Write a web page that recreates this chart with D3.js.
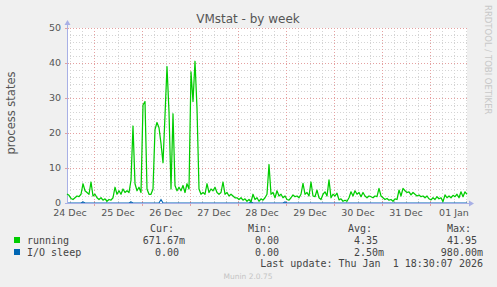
<!DOCTYPE html>
<html><head><meta charset="utf-8">
<script src="https://cdn.jsdelivr.net/npm/d3@7"></script>
<style>
html,body{margin:0;padding:0;background:#f0f0f0;}
svg{display:block;}
text{font-family:"DejaVu Sans",sans-serif;}
.mono{font-family:"DejaVu Sans Mono",monospace;font-size:10px;fill:#444;white-space:pre;}
</style></head>
<body>
<script>
// ---- data ----
const startTime = "2025-12-24T10:30:00Z";
const endTime = "2026-01-01T18:30:00Z";
const stepHours = 1;
const running = [
2.6,2.2,1.3,1.0,1.5,2.0,1.8,2.5,5.5,3.5,3.0,2.5,6.0,2.0,2.5,1.5,1.0,1.5,0.8,1.2,
0.5,1.0,0.8,1.5,4.5,2.5,3.5,2.5,4.0,3.0,3.5,3.0,6.5,22,5.5,3.5,4.5,3.0,28,29,
4.0,2.5,2.5,4.0,21,23,21.5,17,11.5,25,39,26,4,25.5,5,3.5,4.5,3.5,5.0,3.0,
5.5,4.0,37.5,29,40.5,27,4.0,2.5,3.0,2.5,5.5,3.0,4.0,3.5,4.5,3.0,2.5,3.0,6.0,2.5,
3.0,2.0,2.5,2.0,1.5,1.5,1.0,1.5,0.8,1.2,0.5,1.0,0.3,2.5,1.0,1.5,0.5,1.2,0.8,1.5,
2.5,11,2.5,3.0,1.5,3.5,
2.0,2.5,1.5,2.0,1.0,0.8,1.5,2.3,1.8,2.0,1.5,2.5,5.6,2.5,3.0,2.0,6.0,2.0,1.8,3.7,
1.5,1.0,2.5,3.2,2.0,6.6,1.5,2.5,2.0,2.8,0.9,1.2,0.5,0.8,0.5,1.5,3.2,2.0,3.5,2.5,
3.0,1.8,3.0,2.0,1.5,2.0,1.8,1.5,2.0,1.8,4.2,2.0,1.5,1.0,1.3,0.8,1.0,0.5,1.2,1.0,
3.7,2.0,4.2,3.5,3.0,3.2,2.3,3.0,2.5,2.0,2.3,1.8,2.0,1.5,2.0,1.2,0.9,1.5,1.0,1.8,
1.2,1.5,0.4,2.3,1.5,2.0,1.5,2.2,1.8,2.5,1.5,3.2,1.8,3.2,2.5
];
const ioSleep = [
0,0,0,0,0,0,0,0,0.3,0,0,0,0,0,0,0,0,0,0,0,
0,0,0,0,0,0,0,0,0,0,0,0,0.3,0,0,0,0,0,0,0,
0,0,0,0,0,0,0,0.98,0,0,0,0,0,0,0,0,0,0,0,0,
0,0,0,0,0,0,0,0,0,0,0,0,0,0,0,0,0,0,0,0,
0,0,0,0,0,0,0,0,0,0,0,0,0.3,0,0,0,0,0,0,0,
0,0,0,0,0,0,
0,0,0,0.3,0,0,0,0,0,0,0,0,0,0,0,0,0,0,0,0,
0,0,0,0,0,0,0,0,0,0,0,0,0,0,0,0,0,0,0,0,
0,0,0,0,0,0,0,0,0,0,0,0,0,0,0,0,0,0,0,0,
0,0,0,0,0,0,0,0,0,0,0,0,0,0,0,0,0,0,0,0,
0,0,0,0,0,0,0,0,0,0,0,0,0,0,0
];
const yTicks = [0,10,20,30,40,50];
const seriesNames = ["running","I/O sleep"];
const seriesColors = ["#00cc00","#0066b3"];
const legendHeaders = ["Cur:","Min:","Avg:","Max:"];
const legendValues = [
  ["671.67m","0.00 ","4.35 ","41.95 "],
  ["0.00 ","0.00 ","2.50m","980.00m"]
];
const title = "VMstat - by week";
const yLabel = "process states";
const lastUpdate = "Last update: Thu Jan  1 18:30:07 2026";
const footer = "Munin 2.0.75";
const sideText = "RRDTOOL / TOBI OETIKER";

// ---- chart ----
const W = 497, H = 287;
const L = 67, R = 467, T = 28, B = 203;
const svg = d3.select("body").append("svg").attr("width", W).attr("height", H);
svg.append("rect").attr("width", W).attr("height", H).attr("fill", "#f0f0f0");

const t0 = new Date(startTime), t1 = new Date(endTime);
const x = d3.scaleUtc().domain([t0, t1]).range([L, R]);
const y = d3.scaleLinear().domain([0, 50]).range([B, T]);
const timeAt = i => new Date(t0.getTime() + i * stepHours * 3600e3);

svg.append("rect").attr("x", L).attr("y", T).attr("width", R - L).attr("height", B - T).attr("fill", "#ffffff");

// grid
const g = svg.append("g").attr("shape-rendering", "crispEdges");
const minorX = d3.utcHour.every(6).range(t0, t1).filter(d => d.getUTCHours() !== 0);
const majorX = d3.utcDay.range(t0, t1);
const minorY = d3.range(2, 51, 2).filter(v => v % 10 !== 0);
g.selectAll(".mx").data(minorX).join("line")
  .attr("x1", d => Math.round(x(d)) + 0.5).attr("x2", d => Math.round(x(d)) + 0.5)
  .attr("y1", T).attr("y2", B).attr("stroke", "#d4d4d4").attr("stroke-dasharray", "1,2");
g.selectAll(".my").data(minorY).join("line")
  .attr("x1", L).attr("x2", R).attr("y1", d => Math.round(y(d)) + 0.5).attr("y2", d => Math.round(y(d)) + 0.5)
  .attr("stroke", "#d4d4d4").attr("stroke-dasharray", "1,2");
g.selectAll(".Mx").data(majorX).join("line")
  .attr("x1", d => Math.round(x(d)) + 0.5).attr("x2", d => Math.round(x(d)) + 0.5)
  .attr("y1", T).attr("y2", B).attr("stroke", "#e5a0a0").attr("stroke-dasharray", "1,2");
g.selectAll(".My").data(yTicks.filter(v => v > 0)).join("line")
  .attr("x1", L).attr("x2", R).attr("y1", d => Math.round(y(d)) + 0.5).attr("y2", d => Math.round(y(d)) + 0.5)
  .attr("stroke", "#e5a0a0").attr("stroke-dasharray", "1,2");

// tick marks
g.selectAll(".tk").data(minorX).join("line")
  .attr("x1", d => Math.round(x(d)) + 0.5).attr("x2", d => Math.round(x(d)) + 0.5)
  .attr("y1", B - 2).attr("y2", B + 1).attr("stroke", "#c8c8c8");
g.selectAll(".tK").data(majorX).join("line")
  .attr("x1", d => Math.round(x(d)) + 0.5).attr("x2", d => Math.round(x(d)) + 0.5)
  .attr("y1", B - 2).attr("y2", B + 3).attr("stroke", "#e5a0a0");
g.selectAll(".ty").data(yTicks.filter(v => v > 0)).join("line")
  .attr("x1", L - 2).attr("x2", L + 2).attr("y1", d => Math.round(y(d)) + 0.5).attr("y2", d => Math.round(y(d)) + 0.5)
  .attr("stroke", "#e5a0a0");

// series
const line = d3.line().x((d, i) => x(timeAt(i))).y(d => y(d));
svg.append("path").datum(ioSleep).attr("d", line).attr("fill", "none")
  .attr("stroke", seriesColors[1]).attr("stroke-width", 1.2);

// axes lines
const axisColor = "#a8b0e6";
svg.append("line").attr("x1", L + 0.5).attr("x2", L + 0.5).attr("y1", B + 1).attr("y2", T - 4)
  .attr("stroke", axisColor).attr("shape-rendering", "crispEdges");
svg.append("line").attr("x1", L - 2).attr("x2", R + 3).attr("y1", B + 0.5).attr("y2", B + 0.5)
  .attr("stroke", axisColor).attr("shape-rendering", "crispEdges");
svg.append("path").attr("d", `M${L - 2.5},${T - 3} L${L + 0.5},${T - 8} L${L + 3.5},${T - 3} Z`).attr("fill", axisColor);
svg.append("path").attr("d", `M${R + 2},${B - 2.5} L${R + 7},${B + 0.5} L${R + 2},${B + 3.5} Z`).attr("fill", axisColor);

svg.append("path").datum(running).attr("d", line).attr("fill", "none")
  .attr("stroke", seriesColors[0]).attr("stroke-width", 1.25).attr("stroke-linejoin", "round");

// blue blips over axis
svg.append("path").datum(ioSleep).attr("d", d3.line().defined(d => d > 0)
  .x((d, i) => x(timeAt(i))).y(d => y(d))).attr("fill", "none").attr("stroke", seriesColors[1]);

// axis labels
const labelDays = d3.utcDay.range(d3.utcDay.floor(t0), t1).map(d => new Date(d.getTime() + 12 * 3600e3));
svg.append("g").selectAll("text").data(labelDays).join("text")
  .attr("x", d => x(d)).attr("y", B + 13).attr("text-anchor", "middle")
  .attr("font-size", 9.5).attr("fill", "#555").text(d3.utcFormat("%d %b"));
svg.append("g").selectAll("text").data(yTicks).join("text")
  .attr("x", L - 6).attr("y", d => y(d) + 3.3).attr("text-anchor", "end")
  .attr("font-size", 9.5).attr("fill", "#555").text(d => d);

// title & labels
svg.append("text").attr("x", 248).attr("y", 23).attr("text-anchor", "middle")
  .attr("font-size", 12).attr("fill", "#555").text(title);
svg.append("text").attr("transform", "translate(15,113) rotate(-90)").attr("text-anchor", "middle")
  .attr("font-size", 11.5).attr("fill", "#555").text(yLabel);
svg.append("text").attr("transform", "translate(484.5,5) rotate(90)").attr("text-anchor", "start")
  .attr("font-size", 8.5).attr("fill", "#c8c8c8").text(sideText);

// legend
const hdrX = [150, 248, 348, 447];
svg.append("g").selectAll("text").data(legendHeaders).join("text").attr("class", "mono")
  .attr("x", (d, i) => hdrX[i]).attr("y", 232).text(d => d);
const valRight = [185, 285, 384, 483];
seriesNames.forEach((name, r) => {
  const yy = 244 + r * 12;
  svg.append("rect").attr("x", 14).attr("y", yy - 7).attr("width", 6).attr("height", 6)
    .attr("fill", seriesColors[r]);
  svg.append("text").attr("class", "mono").attr("x", 27).attr("y", yy).text(name);
  legendValues[r].forEach((v, c) => {
    svg.append("text").attr("class", "mono").attr("x", valRight[c]).attr("y", yy)
      .attr("text-anchor", "end").text(v);
  });
});
svg.append("text").attr("class", "mono").attr("x", 483).attr("y", 267).attr("text-anchor", "end").text(lastUpdate);
svg.append("text").attr("x", 248).attr("y", 279).attr("text-anchor", "middle")
  .attr("font-size", 7.5).attr("fill", "#c4c4c4").text(footer);
</script>
</body></html>
